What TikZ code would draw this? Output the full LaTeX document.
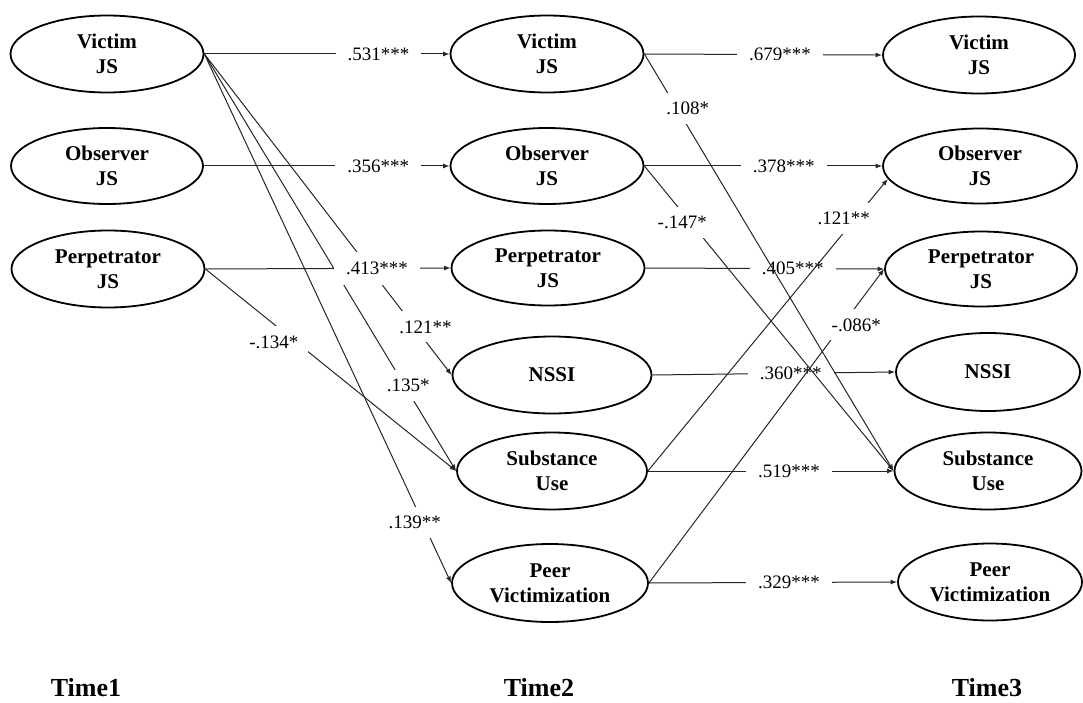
\documentclass[tikz,border=0pt]{standalone}
\usepackage{fontspec}
\setmainfont{Liberation Serif}
\usetikzlibrary{shapes.geometric,arrows.meta}
\begin{document}
\begin{tikzpicture}[x=1pt,y=-1pt,
  var/.style={draw, line width=1.8pt, ellipse, inner sep=0pt, align=center,
              font=\fontsize{21}{25}\selectfont\bfseries},
  coef/.style={fill=white, inner xsep=12pt, inner ysep=10pt,
              font=\fontsize{19}{21}\selectfont},
  ocoef/.style={fill=white, inner xsep=10pt, inner ysep=9pt,
              font=\fontsize{19}{21}\selectfont},
  pth/.style={line width=1pt, draw=black!85, -{Latex[length=6.5pt,width=5pt]}},
  timelbl/.style={font=\fontsize{26}{30}\selectfont\bfseries, anchor=base}]
\useasboundingbox (0,0) rectangle (1083,703);

% Time 1
\node[var, minimum width=193pt, minimum height=77pt] (V1) at (107,54) {Victim\\JS};
\node[var, minimum width=192pt, minimum height=76pt] (O1) at (107,166) {Observer\\JS};
\node[var, minimum width=193pt, minimum height=77pt] (P1) at (108,269) {Perpetrator\\JS};

% Time 2
\node[var, minimum width=193pt, minimum height=77pt] (V2) at (547,54) {Victim\\JS};
\node[var, minimum width=193pt, minimum height=76pt] (O2) at (547,166) {Observer\\JS};
\node[var, minimum width=193pt, minimum height=75pt] (P2) at (548,268) {Perpetrator\\JS};
\node[var, minimum width=199pt, minimum height=77pt] (N2) at (552,375) {NSSI};
\node[var, minimum width=190pt, minimum height=77pt] (S2) at (552,471) {Substance\\Use};
\node[var, minimum width=196pt, minimum height=78pt] (PV2) at (550,583) {Peer\\Victimization};

% Time 3
\node[var, minimum width=192pt, minimum height=77pt] (V3) at (979,55) {Victim\\JS};
\node[var, minimum width=194pt, minimum height=75pt] (O3) at (980,166) {Observer\\JS};
\node[var, minimum width=192pt, minimum height=75pt] (P3) at (981,269) {Perpetrator\\JS};
\node[var, minimum width=184pt, minimum height=78pt] (N3) at (988,372) {NSSI};
\node[var, minimum width=187pt, minimum height=77pt] (S3) at (988,471) {Substance\\Use};
\node[var, minimum width=184pt, minimum height=77pt] (PV3) at (990,582) {Peer\\Victimization};

% Time labels
\node[timelbl] (T1) at (86,696) {Time1};
\node[timelbl] (T2) at (539,696) {Time2};
\node[timelbl] (T3) at (987,696) {Time3};

% cross-lagged paths Time1 -> Time2
\draw[pth] (V1.east) -- node[ocoef, pos=0.85, xshift=11pt] {.121**} (N2.west);
\draw[pth] (V1.east) -- node[ocoef, pos=0.794, xshift=4pt] {.135*} (S2.west);
\draw[pth] (V1.east) -- node[ocoef, pos=0.885, xshift=-8pt] {.139**} (PV2.west);
\draw[pth] (P1.east) -- node[ocoef, pos=0.361, xshift=-22pt] {-.134*} (S2.west);

% autoregressive Time1 -> Time2
\draw[pth] (V1.east) -- node[coef, pos=0.71] {.531***} (V2.west);
\draw[pth] (O1.east) -- node[coef, pos=0.71] {.356***} (O2.west);
\draw[pth] (P1.east) -- node[coef, pos=0.70] {.413***} (P2.west);

% autoregressive Time2 -> Time3
\draw[pth] (V2.east) -- node[coef, pos=0.57] {.679***} (V3.west);
\draw[pth] (O2.east) -- node[coef, pos=0.586] {.378***} (O3.west);
\draw[pth] (P2.east) -- node[coef, pos=0.617] {.405***} (P3.west);
\draw[pth] (N2.east) -- node[coef, pos=0.57] {.360***} (N3.west);
\draw[pth] (S2.east) -- node[coef, pos=0.574] {.519***} (S3.west);
\draw[pth] (PV2.east) -- node[coef, pos=0.564] {.329***} (PV3.west);

% cross-lagged paths Time2 -> Time3
\draw[pth] (V2.east) -- node[ocoef, pos=0.13, xshift=11pt] {.108*} (S3.west);
\draw[pth] (O2.east) -- node[ocoef, pos=0.184, xshift=-8pt] {-.147*} (S3.west);
\draw[pth] (S2.east) -- node[ocoef, pos=0.866, xshift=-12pt] {.121**} (O3.188);
\draw[pth] (PV2.east) -- node[ocoef, pos=0.822, xshift=14pt] {-.086*} (P3.west);
\end{tikzpicture}
\end{document}
